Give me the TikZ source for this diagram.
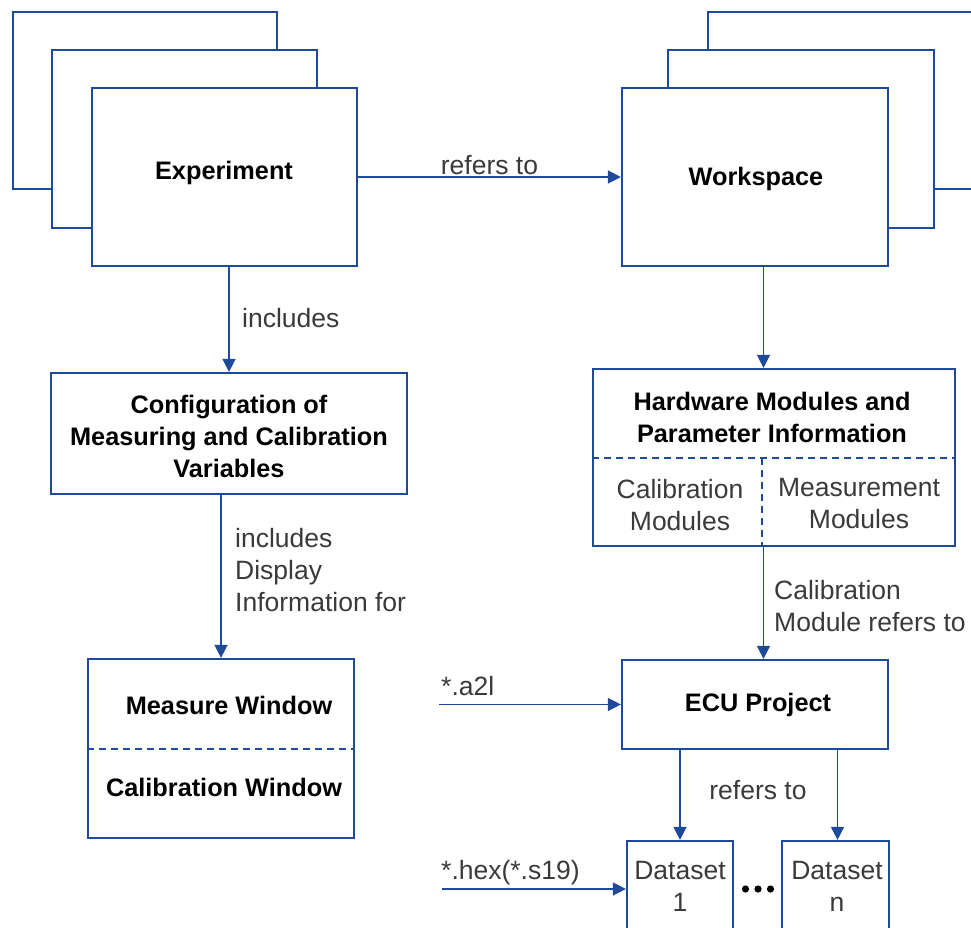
\documentclass[tikz,border=0pt]{standalone}
\usepackage{fontspec}
\setmainfont{Liberation Sans}
\usetikzlibrary{arrows.meta,calc}
\definecolor{bl}{HTML}{1F4A9A}
\definecolor{lbl}{HTML}{3A3A3A}
\begin{document}
\begin{tikzpicture}[x=1pt,y=-1pt,
  box/.style={draw=bl,line width=2.2pt,fill=white,rectangle,inner sep=0pt},
  conn/.style={draw=bl,line width=1.4pt,-{Triangle[length=13pt,width=13pt]}},
  divline/.style={draw=bl,line width=2pt,dash pattern=on 7pt off 5pt},
  title/.style={font=\fontsize{25.3}{32}\selectfont\bfseries,align=center,inner sep=0pt,text=black},
  lab/.style={font=\fontsize{26.5}{32}\selectfont,text=lbl,inner sep=0pt}]
\useasboundingbox (0,0) rectangle (971,928);
\clip (0,0) rectangle (971,928);
% Experiment stack
\node[box,minimum width=264pt,minimum height=177pt] (exp3) at (145,100.5) {};
\node[box,minimum width=265pt,minimum height=178pt] (exp2) at (184.5,139) {};
\node[box,minimum width=265pt,minimum height=178pt] (exp) at (224.5,177) {};
\node[title] (expt) at (224,173) {Experiment};
% Workspace stack
\node[box,minimum width=292pt,minimum height=177pt] (ws3) at (854,100.5) {};
\node[box,minimum width=266pt,minimum height=178pt] (ws2) at (801,139) {};
\node[box,minimum width=266pt,minimum height=178pt] (ws) at (755,177) {};
\node[title] (wst) at (756,179) {Workspace};
% Configuration
\node[box,minimum width=356pt,minimum height=121pt] (cfg) at (229,433.5) {};
\node[title] (cfgt) at (229,436) {Configuration of\\Measuring and Calibration\\Variables};
% Measure / Calibration window
\node[box,minimum width=266pt,minimum height=179pt] (mw) at (221,748.5) {};
\draw[divline] (mw.west) -- (mw.east);
\node[title] (mwt) at (229,705) {Measure Window};
\node[title] (cwt) at (224,787) {Calibration Window};
% Hardware modules
\node[box,minimum width=362pt,minimum height=177pt] (hw) at (774,457.5) {};
\draw[divline] (hw.west) -- (hw.east);
\coordinate (split) at (762,458);
\draw[divline] (split) -- (split |- hw.south);
\node[title] (hwt) at (772,417) {Hardware Modules and\\Parameter Information};
\node[lab,align=center] (calm) at (680,505) {Calibration\\Modules};
\node[lab,align=center] (meam) at (859,504) {Measurement\\Modules};
% ECU project
\node[box,minimum width=266pt,minimum height=89pt] (ecu) at (755,704.5) {};
\node[title] (ecut) at (758,705) {ECU Project};
% Datasets
\node[box,minimum width=106pt,minimum height=119pt] (ds1) at (680,900.5) {};
\node[box,minimum width=107pt,minimum height=119pt] (dsn) at (835.5,900.5) {};
\node[lab,align=center,anchor=north] (ds1t) at (680,861) {Dataset\\1};
\node[lab,align=center,anchor=north] (dsnt) at (837,861) {Dataset\\n};
\fill[black] (745.5,889) circle (3.6) (758,889) circle (3.6) (770.5,889) circle (3.6);
% Connectors
\draw[conn] (exp.east) -- (ws.west);
\node[lab] (l1) at (489.5,165) {refers to};
\draw[conn] (cfg.north |- exp.south) -- (cfg.north);
\node[lab,anchor=west] (l2) at (242,318) {includes};
\draw[conn] (mw.north |- cfg.south) -- (mw.north);
\node[lab,anchor=west,align=left] (l3) at (235,570) {includes\\Display\\Information for};
\coordinate (sx) at (763.5,0);
\draw[conn] (ws.south -| sx) -- (hw.north -| sx);
\draw[conn] (hw.south -| sx) -- (ecu.north -| sx);
\node[lab,anchor=west,align=left] (l4) at (774,606) {Calibration\\Module refers to};
\draw[conn] (ds1.north |- ecu.south) -- (ds1.north);
\coordinate (dx) at (837.5,0);
\draw[conn] (ecu.south -| dx) -- (dsn.north -| dx);
\node[lab] (l5) at (758,790) {refers to};
\coordinate (a2l) at (439,704.5);
\draw[conn] (a2l) -- (ecu.west);
\node[lab,anchor=west] (l6) at (441,686) {*.a2l};
\coordinate (hex) at (442,889);
\draw[conn] (hex) -- (hex -| ds1.west);
\node[lab,anchor=west] (l7) at (441,873) {*.hex(*.s19)};
\end{tikzpicture}
\end{document}
